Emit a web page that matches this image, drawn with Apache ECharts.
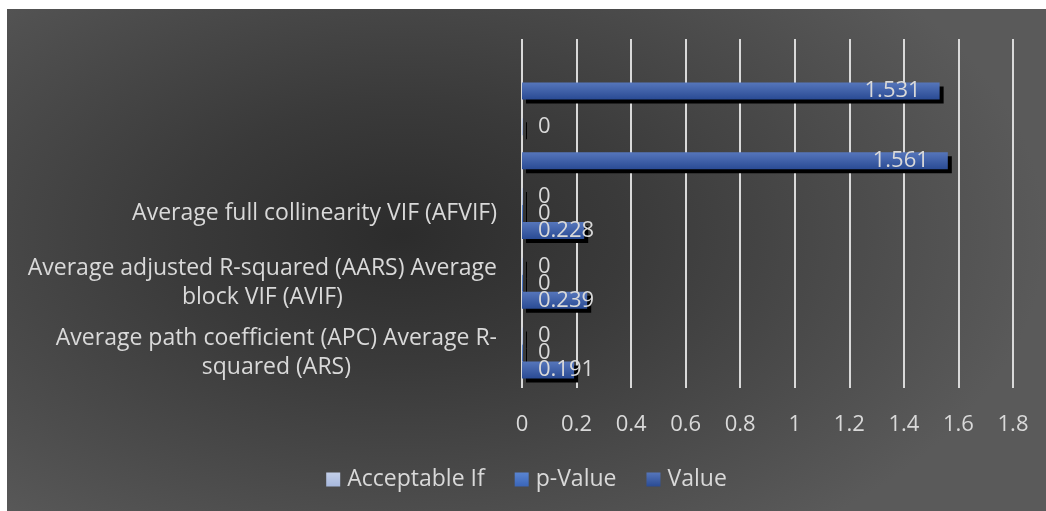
<!DOCTYPE html>
<html>
<head>
<meta charset="utf-8">
<script src="https://cdn.jsdelivr.net/npm/echarts@6/dist/echarts.min.js"></script>
<style>
html,body{margin:0;padding:0;background:#fff;}
#chart{position:absolute;left:7px;top:9px;width:1039px;height:502px;
  background:radial-gradient(ellipse 62% 75% at 38% 45%, #2c2c2c 0%, #3a3a3a 35%, #5a5a5a 100%);}
</style>
</head>
<body>
<div id="chart"></div>
<script>
// categories bottom -> top
var categories = [
  'Average path coefficient (APC) Average R-\nsquared (ARS)',
  'Average adjusted R-squared (AARS) Average\nblock VIF (AVIF)',
  'Average full collinearity VIF (AFVIF)',
  '',
  ''
]
var acceptableIf = [0, 0, 0, 0, null]
var pValue = [0, 0, 0, null, null]
var values = [0.191, 0.239, 0.228, 1.561, 1.531]
var xTicks = [0, 0.2, 0.4, 0.6, 0.8, 1, 1.2, 1.4, 1.6, 1.8]

var txt = '#d9d9d9'
var fontFam = '"Open Sans", "Noto Sans", sans-serif'
var fs = 22
var catFs = 23

function makeData(arr){
  return arr.map(function(v){
    if (v === null) return {value: null}
    return {value: v, label: {position: v > 1 ? 'insideRight' : 'insideLeft', distance: v > 1 ? 19 : 16}}
  })
}
function grad(c1, c2){
  return new echarts.graphic.LinearGradient(0, 0, 0, 1, [{offset: 0, color: c1}, {offset: 1, color: c2}])
}
var baseSeries = {
  type: 'bar',
  barWidth: 17,
  barGap: '0%',
  label: {show: true, color: txt, fontSize: fs, fontFamily: fontFam},
}

var chart = echarts.init(document.getElementById('chart'))
var option = {
  backgroundColor: 'transparent',
  animation: false,
  grid: {left: 515, right: 33, top: 30, bottom: 123, containLabel: false},
  legend: {
    bottom: 15,
    left: 'center',
    itemWidth: 14,
    itemHeight: 14,
    itemGap: 30,
    icon: 'rect',
    textStyle: {color: txt, fontSize: 23, fontFamily: fontFam, padding: [0, 0, 0, 2]},
    data: ['Acceptable If', 'p-Value', 'Value']
  },
  xAxis: {
    type: 'value',
    min: xTicks[0],
    max: xTicks[xTicks.length - 1],
    interval: 0.2,
    axisLine: {show: false},
    axisTick: {show: false},
    splitLine: {show: true, lineStyle: {color: '#d9d9d9', width: 2}},
    axisLabel: {color: txt, fontSize: fs, fontFamily: fontFam, margin: 26,
      formatter: function(v){ return String(Math.round(v * 10) / 10) }}
  },
  yAxis: {
    type: 'category',
    data: categories,
    axisLine: {show: false},
    axisTick: {show: false},
    axisLabel: {
      color: txt, fontSize: catFs, fontFamily: fontFam, margin: 25, lineHeight: 29,
      formatter: function(v){
        if (!v) return ''
        return v.split('\n').map(function(s){ return '{c|' + s + '}' }).join('\n')
      },
      rich: {c: {align: 'center', color: txt, fontSize: catFs, fontFamily: fontFam, lineHeight: 29}}
    }
  },
  series: [
    Object.assign({}, baseSeries, {
      name: 'Acceptable If', data: makeData(acceptableIf), barMinHeight: 1,
      itemStyle: {color: grad('#c3cfe9', '#a7b8dd'), shadowColor: '#000', shadowOffsetX: 4, shadowOffsetY: 4, shadowBlur: 0}
    }),
    Object.assign({}, baseSeries, {
      name: 'p-Value', data: makeData(pValue), barMinHeight: 1,
      itemStyle: {color: grad('#5a85d2', '#3a65b8'), shadowColor: '#000', shadowOffsetX: 4, shadowOffsetY: 4, shadowBlur: 0}
    }),
    Object.assign({}, baseSeries, {
      name: 'Value', data: makeData(values),
      itemStyle: {color: grad('#5676bb', '#2a4b94'), shadowColor: '#000', shadowOffsetX: 4, shadowOffsetY: 4, shadowBlur: 0}
    })
  ]
}
chart.setOption(option)
</script>
</body>
</html>
